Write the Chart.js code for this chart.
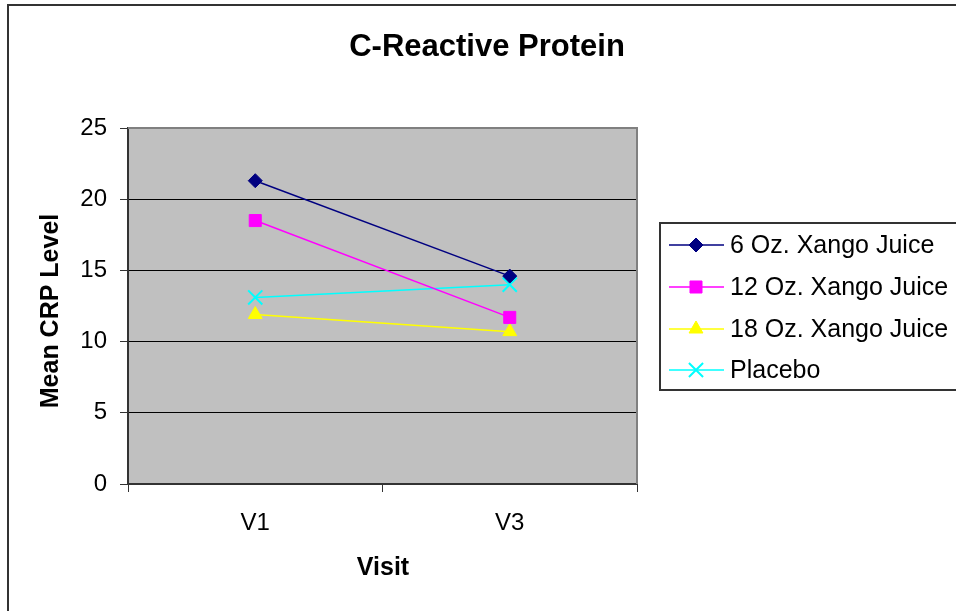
<!DOCTYPE html>
<html>
<head>
<meta charset="utf-8">
<script src="https://cdn.jsdelivr.net/npm/chart.js@4.4.1/dist/chart.umd.min.js"></script>
<style>
  html, body { margin: 0; padding: 0; background: #fff; }
  #wrap { width: 956px; height: 611px; }
</style>
</head>
<body>
<div id="wrap"><canvas id="crp" width="956" height="611"></canvas></div>
<script>
// ========== DATA ==========
const visits = ["V1", "V3"];
const oz6 = [21.3, 14.6];
const oz12 = [18.5, 11.7];
const oz18 = [11.9, 10.7];
const placebo = [13.1, 14.0];
const yTicks = [0, 5, 10, 15, 20, 25];

const FONT = "'Liberation Sans', Arial, sans-serif";

// ========== PLUGIN: frame, plot bg, titles, legend ==========
const deco = {
  id: "deco",
  beforeDraw(chart) {
    const c = chart.ctx, a = chart.chartArea;
    c.save();
    c.fillStyle = "#fff";
    c.fillRect(0, 0, chart.width, chart.height);
    // outer frame
    c.strokeStyle = "#333";
    c.lineWidth = 2;
    c.beginPath();
    c.moveTo(8, chart.height + 5);
    c.lineTo(8, 5);
    c.lineTo(chart.width + 5, 5);
    c.stroke();
    // plot background
    c.fillStyle = "#c0c0c0";
    c.fillRect(a.left, a.top, a.right - a.left, a.bottom - a.top);
    c.restore();
  },
  beforeDatasetsDraw(chart) {
    const c = chart.ctx, a = chart.chartArea;
    c.save();
    c.strokeStyle = "#808080";
    c.lineWidth = 2;
    c.beginPath();
    c.moveTo(a.left, a.top);
    c.lineTo(a.right, a.top);
    c.lineTo(a.right, a.bottom);
    c.stroke();
    c.restore();
  },
  afterDraw(chart) {
    const c = chart.ctx;
    c.save();
    c.fillStyle = "#000";
    c.textAlign = "center";
    c.textBaseline = "middle";
    c.font = "bold 31px " + FONT;
    c.fillText("C-Reactive Protein", 487, 47);
    c.font = "bold 25px " + FONT;
    c.fillText("Visit", 383, 568);
    c.save();
    c.translate(51, 311);
    c.rotate(-Math.PI / 2);
    c.fillText("Mean CRP Level", 0, 0);
    c.restore();

    // legend
    c.strokeStyle = "#333";
    c.lineWidth = 2;
    c.strokeRect(660, 223, 330, 167);
    c.font = "25px " + FONT;
    c.textAlign = "left";
    const rowY = [245, 287, 329, 370];
    chart.data.datasets.forEach((ds, i) => {
      const y = rowY[i];
      c.strokeStyle = ds.borderColor;
      c.lineWidth = ds.borderWidth;
      c.beginPath();
      c.moveTo(669, y);
      c.lineTo(724, y);
      c.stroke();
      c.fillStyle = ds.borderColor;
      c.strokeStyle = ds.borderColor;
      c.lineWidth = ds.pointBorderWidth;
      Chart.helpers.drawPoint(c, {
        pointStyle: ds.pointStyle,
        radius: ds.pointRadius,
        borderWidth: ds.pointBorderWidth
      }, 696, y);
      c.fillStyle = "#000";
      c.fillText(ds.label, 730, y + 1);
    });
    c.restore();
  }
};

function series(label, data, color, style, radius) {
  return {
    label: label,
    data: data,
    borderColor: color,
    backgroundColor: color,
    pointBackgroundColor: color,
    pointBorderColor: color,
    borderWidth: 1.5,
    pointStyle: style,
    pointRadius: radius,
    pointHoverRadius: radius,
    pointBorderWidth: style === "crossRot" ? 2 : 1,
    tension: 0
  };
}

new Chart(document.getElementById("crp"), {
  type: "line",
  data: {
    labels: visits,
    datasets: [
      series("6 Oz. Xango Juice", oz6, "#000080", "rectRot", 7),
      series("12 Oz. Xango Juice", oz12, "#ff00ff", "rect", 8.5),
      series("18 Oz. Xango Juice", oz18, "#ffff00", "triangle", 8),
      series("Placebo", placebo, "#00ffff", "crossRot", 10)
    ]
  },
  options: {
    responsive: false,
    animation: false,
    layout: { padding: { left: 0, top: 128, right: 319, bottom: 0 } },
    plugins: {
      legend: { display: false },
      title: { display: false },
      tooltip: { enabled: false }
    },
    scales: {
      x: {
        offset: true,
        grid: {
          offset: true,
          drawOnChartArea: false,
          tickLength: 8,
          color: "#333",
          lineWidth: 1
        },
        border: { color: "#333", width: 2 },
        ticks: { color: "#000", font: { family: FONT, size: 24 }, padding: 17 },
        afterFit(scale) { scale.height = 611 - 484; }
      },
      y: {
        min: 0,
        max: 25,
        afterBuildTicks(scale) { scale.ticks = yTicks.map(v => ({ value: v })); },
        grid: {
          color: ctx => (ctx.tick && ctx.tick.value === 25 ? "#808080" : "#000"),
          tickColor: "#333",
          tickLength: 8,
          lineWidth: 1
        },
        border: { color: "#333", width: 2 },
        ticks: { color: "#000", font: { family: FONT, size: 24 }, padding: 13 },
        afterFit(scale) { scale.width = 128; }
      }
    }
  },
  plugins: [deco]
});
</script>
</body>
</html>
